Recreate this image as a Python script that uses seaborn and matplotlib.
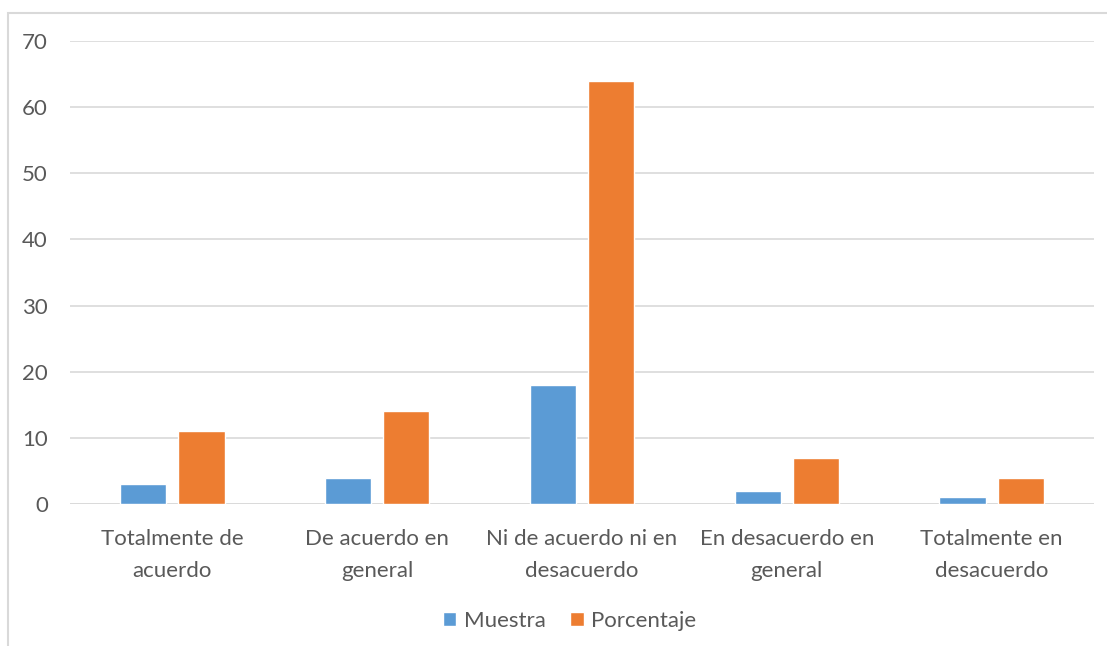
import pandas as pd
import numpy as np
import matplotlib.pyplot as plt
import seaborn as sns
from matplotlib.patches import Rectangle

categories = ["Totalmente de\nacuerdo", "De acuerdo en\ngeneral", "Ni de acuerdo ni en\ndesacuerdo",
              "En desacuerdo en\ngeneral", "Totalmente en\ndesacuerdo"]
muestra = [3, 4, 18, 2, 1]
porcentaje = [11, 14, 64, 7, 4]
series_names = ["Muestra", "Porcentaje"]
y_ticks = [0, 10, 20, 30, 40, 50, 60, 70]

sns.set_style("white")
plt.rcParams["font.family"] = ["Lato", "DejaVu Sans"]

df = pd.DataFrame({"Categoria": categories, "Muestra": muestra, "Porcentaje": porcentaje})
long_df = df.melt(id_vars="Categoria", var_name="Serie", value_name="Valor")

text_color = "#595959"
grid_color = "#d9d9d9"

fig = plt.figure(figsize=(11.07, 6.46), dpi=100)
ax = fig.add_axes([70 / 1107, 1 - 504 / 646, 1024 / 1107, 463 / 646])

sns.barplot(data=long_df, x="Categoria", y="Valor", hue="Serie",
            palette=["#5B9BD5", "#ED7D31"], width=0.567, gap=0.205,
            saturation=1, ax=ax, legend=True)

ax.set_ylim(0, 70)
ax.set_yticks(y_ticks)
ax.set_xlim(-0.5, len(categories) - 0.5)
ax.yaxis.grid(True, color=grid_color, linewidth=1.2)
ax.set_axisbelow(True)
for side in ["top", "right", "left", "bottom"]:
    ax.spines[side].set_visible(False)
ax.axhline(0, color=grid_color, linewidth=1.2, zorder=0.5)
ax.tick_params(axis="both", length=0, colors=text_color, labelsize=16)
ax.tick_params(axis="y", pad=16)
ax.tick_params(axis="x", pad=18)
ax.set_xlabel("")
ax.set_ylabel("")
for lbl in ax.get_xticklabels():
    lbl.set_linespacing(1.75)

leg = ax.legend(loc="upper center", bbox_to_anchor=(0.488, -0.187), ncol=2, frameon=False,
                fontsize=16, handlelength=0.6, handleheight=0.6, handletextpad=0.35,
                columnspacing=1.1)
for t in leg.get_texts():
    t.set_color(text_color)

# chart border like the original frame
fig.patches.append(Rectangle((8 / 1107, -0.1), 1.2, 1 - 13 / 646 + 0.1,
                             transform=fig.transFigure, fill=False,
                             edgecolor=grid_color, linewidth=1.5))

fig.savefig("out.png", dpi=100)
